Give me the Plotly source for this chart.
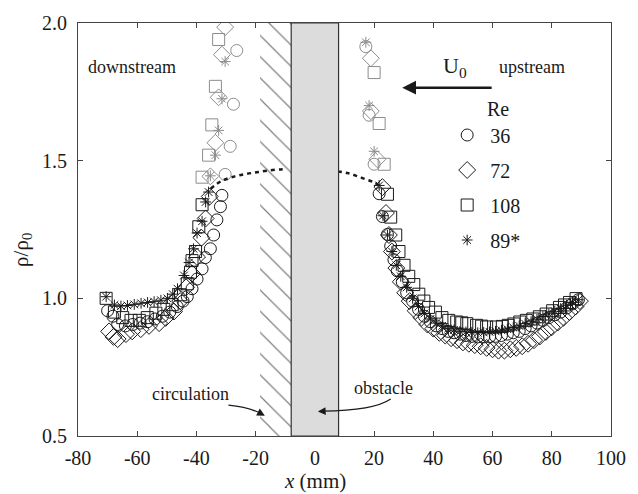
import plotly.graph_objects as go

# ---- measured density profiles rho/rho0 along x (mm) ----
# Re = 36 (circles)
re36_x = [-70.0, -68.2, -66.6, -64.0, -61.5, -59.0, -56.5, -54.0, -51.5, -49.0, -46.5,
          -44.5, -43.1, -41.5, -39.8, -38.1, -37.0, -35.3, -34.2, -33.1, -31.9, -31.4,
          21.7, 22.8, 24.5, 25.6, 26.7, 27.8, 29.5, 31.0, 33.0, 35.0, 37.0, 39.0, 41.0,
          43.0, 45.0, 47.0, 49.0, 51.0, 53.0, 55.0, 57.0, 59.0, 61.0, 63.0, 65.0, 67.0,
          69.0, 71.0, 73.0, 75.0, 77.0, 79.0, 81.0, 83.0, 85.0, 87.0, 89.0]
re36_y = [0.955, 0.935, 0.905, 0.900, 0.905, 0.910, 0.915, 0.925, 0.935, 0.950, 0.970,
          0.990, 1.006, 1.035, 1.070, 1.107, 1.148, 1.180, 1.230, 1.285, 1.333, 1.374,
          1.380, 1.297, 1.232, 1.190, 1.140, 1.100, 1.060, 1.020, 0.990, 0.960, 0.935,
          0.915, 0.900, 0.890, 0.880, 0.875, 0.870, 0.865, 0.862, 0.860, 0.860, 0.860,
          0.862, 0.865, 0.870, 0.875, 0.880, 0.890, 0.900, 0.910, 0.920, 0.930, 0.940,
          0.950, 0.965, 0.980, 0.995]
re36_near_x = [-30.3, -28.6, -27.5, -26.4, 17.2, 18.3, 20.0]
re36_near_y = [1.450, 1.552, 1.705, 1.900, 1.914, 1.665, 1.487]

# Re = 72 (diamonds)
re72_x = [-69.5, -68.0, -66.6, -63.8, -61.7, -58.8, -56.0, -52.6, -50.4, -47.6, -45.5,
          -43.5, -41.5, -39.8, -38.3, -36.9, -35.5,
          22.8, 24.0, 25.0, 26.0, 27.5, 29.0, 30.5, 32.0, 34.0, 36.0, 38.0, 40.0, 42.0,
          44.0, 46.0, 48.0, 50.0, 52.0, 54.0, 56.0, 58.0, 60.0, 62.0, 64.0, 66.0, 68.0,
          70.0, 72.0, 74.0, 76.0, 78.0, 80.0, 82.0, 84.0, 86.0, 88.0, 89.5]
re72_y = [0.880, 0.860, 0.852, 0.870, 0.880, 0.888, 0.900, 0.910, 0.929, 0.952, 0.990,
          1.040, 1.090, 1.150, 1.220, 1.290, 1.370,
          1.404, 1.310, 1.230, 1.170, 1.110, 1.060, 1.020, 0.990, 0.955, 0.930, 0.905,
          0.890, 0.875, 0.865, 0.855, 0.848, 0.840, 0.835, 0.830, 0.826, 0.820, 0.815,
          0.810, 0.810, 0.815, 0.820, 0.826, 0.835, 0.848, 0.862, 0.878, 0.895, 0.912,
          0.930, 0.950, 0.970, 0.990]
re72_near_x = [-35.3, -33.6, -32.5, -31.4, -30.3, 18.9, 18.9, 21.1]
re72_near_y = [1.443, 1.565, 1.730, 1.885, 1.985, 1.872, 1.680, 1.505]

# Re = 108 (squares)
re108_x = [-70.5, -67.7, -64.9, -62.1, -59.3, -56.6, -53.7, -51.0, -48.2, -45.4, -43.1,
           -42.0, -41.5, -40.3, -39.2, -38.1,
           24.5, 25.6, 27.3, 28.4, 30.1, 31.7, 33.4, 35.1, 36.8, 38.4, 40.7, 42.9, 45.2,
           47.9, 49.6, 51.3, 54.6, 56.3, 58.0, 61.3, 63.3, 65.3, 67.2, 69.2, 71.4, 73.6,
           75.8, 78.1, 80.3, 82.6, 84.3, 86.0, 88.2]
re108_y = [1.000, 0.950, 0.930, 0.920, 0.920, 0.930, 0.946, 0.960, 0.977, 1.013, 1.053,
           1.095, 1.137, 1.170, 1.260, 1.340,
           1.378, 1.295, 1.230, 1.170, 1.120, 1.080, 1.050, 1.015, 0.990, 0.967, 0.950,
           0.930, 0.920, 0.914, 0.911, 0.908, 0.902, 0.899, 0.896, 0.896, 0.898, 0.902,
           0.907, 0.914, 0.920, 0.925, 0.933, 0.943, 0.955, 0.967, 0.976, 0.985, 0.999]
re108_near_x = [-38.1, -35.9, -34.8, -33.6, -32.5, 20.0, 21.7, 23.4]
re108_near_y = [1.440, 1.520, 1.630, 1.770, 1.940, 1.820, 1.635, 1.487]

# Re = 89* (asterisks)
re89_x = [-70.5, -67.7, -65.5, -63.3, -61.0, -58.7, -56.5, -54.3, -52.0, -49.8, -48.0,
          -46.4, -44.2, -42.5, -41.0, -39.8, -38.1, -36.9, -35.9,
          21.7, 23.0, 24.5, 26.0, 27.5, 29.0, 31.0, 33.0, 35.0, 37.0, 39.0, 41.0, 43.0,
          45.0, 47.0, 49.0, 51.0, 53.0, 55.0, 57.0, 59.0, 61.0, 63.0, 65.0, 67.0, 69.0,
          71.0, 73.0, 75.0, 77.0, 79.0, 81.0, 83.0, 85.0, 87.0, 89.0]
re89_y = [1.006, 0.976, 0.972, 0.974, 0.978, 0.982, 0.985, 0.988, 0.993, 1.000, 1.015,
          1.035, 1.083, 1.130, 1.180, 1.237, 1.280, 1.350, 1.386,
          1.410, 1.300, 1.230, 1.170, 1.120, 1.080, 1.040, 1.000, 0.970, 0.945, 0.925,
          0.910, 0.900, 0.890, 0.885, 0.880, 0.878, 0.876, 0.875, 0.876, 0.878, 0.880,
          0.884, 0.888, 0.894, 0.900, 0.908, 0.915, 0.924, 0.934, 0.944, 0.953, 0.963,
          0.975, 0.985, 0.995]
re89_near_x = [-35.3, -33.6, -32.5, -31.4, -30.3, 17.2, 18.3, 20.0]
re89_near_y = [1.445, 1.520, 1.610, 1.725, 1.860, 1.930, 1.700, 1.534]

# dotted guide curve across the obstacle
guide_left_x = [-35.2, -31.4, -27.0, -23.0, -19.0, -15.0, -11.0, -9.5]
guide_left_y = [1.398, 1.427, 1.443, 1.452, 1.459, 1.465, 1.469, 1.471]
guide_right_x = [7.7, 11.0, 14.0, 17.0, 20.0, 21.7]
guide_right_y = [1.461, 1.455, 1.445, 1.433, 1.421, 1.410]

# geometry
obstacle = (-8.0, 8.0)
circulation = (-18.5, -8.0)
y_range = (0.5, 2.0)

SERIF = "Liberation Serif"
BLACK = "#1a1a1a"
GREY = "#8c8c8c"

fig = go.Figure()

# recirculation zone (hatched)
fig.add_trace(go.Scatter(
    x=[circulation[0], circulation[1], circulation[1], circulation[0], circulation[0]],
    y=[y_range[0], y_range[0], y_range[1], y_range[1], y_range[0]],
    mode="lines", line=dict(width=0), fill="toself", fillcolor="rgba(0,0,0,0)",
    fillpattern=dict(shape="\\", fgcolor="#000000", bgcolor="white", size=15, solidity=0.08),
    hoverinfo="skip", showlegend=False))

series = [
    ("36", re36_x, re36_y, re36_near_x, re36_near_y, "circle-open", 12),
    ("72", re72_x, re72_y, re72_near_x, re72_near_y, "diamond-open", 13),
    ("108", re108_x, re108_y, re108_near_x, re108_near_y, "square-open", 12),
    ("89*", re89_x, re89_y, re89_near_x, re89_near_y, "asterisk-open", 9),
]

for name, xs, ys, nx, ny, sym, sz in series:
    fig.add_trace(go.Scatter(
        x=nx, y=ny, mode="markers", showlegend=False, hoverinfo="skip",
        marker=dict(symbol=sym, size=sz, color=GREY, line=dict(color=GREY, width=1))))
for name, xs, ys, nx, ny, sym, sz in series:
    fig.add_trace(go.Scatter(
        x=xs, y=ys, mode="markers", name=name, legendgroup=name,
        marker=dict(symbol=sym, size=sz, color=BLACK, line=dict(color=BLACK, width=1))))

for gx, gy in [(guide_left_x, guide_left_y), (guide_right_x, guide_right_y)]:
    fig.add_trace(go.Scatter(
        x=gx, y=gy, mode="lines", showlegend=False, hoverinfo="skip",
        line=dict(color=BLACK, width=2.5, dash="4px,4px", shape="spline")))

# obstacle
fig.add_shape(type="rect", x0=obstacle[0], x1=obstacle[1], y0=y_range[0], y1=y_range[1],
              fillcolor="#dcdcdc", line=dict(color="#333333", width=1.2), layer="above")

# curved pointers for the labels
fig.add_shape(type="path", path="M -29.2,0.612 Q -22,0.605 -17.6,0.578",
              line=dict(color=BLACK, width=1.2))
fig.add_shape(type="path", path="M 25.6,0.634 Q 20,0.592 2.5,0.590",
              line=dict(color=BLACK, width=1.2), layer="above")

ann = [
    dict(x=-61.9, y=1.839, text="downstream"),
    dict(x=73.3, y=1.839, text="upstream"),
    dict(x=61.85, y=1.686, text="Re", font=dict(family=SERIF, size=20, color=BLACK)),
    dict(x=47.3, y=1.842, text="U<sub>0</sub>", font=dict(family=SERIF, size=22, color=BLACK)),
    dict(x=-42.0, y=0.654, text="circulation"),
    dict(x=23.1, y=0.675, text="obstacle"),
]
for a in ann:
    a.setdefault("font", dict(family=SERIF, size=18, color=BLACK))
    fig.add_annotation(xref="x", yref="y", showarrow=False, **a)

# flow direction arrow
fig.add_annotation(x=29.5, y=1.765, ax=60.2, ay=1.765, xref="x", yref="y",
                   axref="x", ayref="y", text="", showarrow=True,
                   arrowhead=2, arrowsize=1.1, arrowwidth=2.5, arrowcolor=BLACK)
# arrowheads on the curved pointers
fig.add_annotation(x=-16.9, y=0.574, ax=-18.3, ay=0.582, xref="x", yref="y",
                   axref="x", ayref="y", text="", showarrow=True,
                   arrowhead=2, arrowsize=1.3, arrowwidth=1.2, arrowcolor=BLACK)
fig.add_annotation(x=1.0, y=0.589, ax=3.0, ay=0.590, xref="x", yref="y",
                   axref="x", ayref="y", text="", showarrow=True,
                   arrowhead=2, arrowsize=1.3, arrowwidth=1.2, arrowcolor=BLACK)

# axis titles
fig.add_annotation(xref="paper", yref="paper", x=0.4448, y=-0.1096, showarrow=False,
                   xanchor="center", yanchor="middle",
                   text="<i>x</i> (mm)", font=dict(family=SERIF, size=21, color=BLACK))
fig.add_annotation(xref="paper", yref="paper", x=-0.1055, y=0.45, showarrow=False,
                   xanchor="center", yanchor="middle",
                   textangle=-90, text="ρ/ρ<sub>0</sub>",
                   font=dict(family=SERIF, size=21, color=BLACK))

axis_common = dict(showgrid=False, zeroline=False, showline=True, linecolor="#444444",
                   linewidth=1.2, mirror="ticks", ticks="inside", ticklen=5,
                   tickcolor="#444444", tickwidth=1.2,
                   tickfont=dict(family=SERIF, size=20, color=BLACK))

fig.update_xaxes(range=[-80, 100], tickvals=[-80, -60, -40, -20, 0, 20, 40, 60, 80, 100],
                 ticktext=["-80", "-60", "-40", "-20", "0", "20", "40", "60", "80", "100"],
                 ticklabelstandoff=4, **axis_common)
fig.update_yaxes(range=[0.5, 2.0], tickvals=[0.5, 1.0, 1.5, 2.0],
                 ticktext=["0.5", "1.0", "1.5", "2.0"], ticklabelstandoff=6, **axis_common)

fig.update_layout(
    width=638, height=494,
    margin=dict(l=78, r=24, t=16, b=58),
    paper_bgcolor="white", plot_bgcolor="white",
    legend=dict(x=0.687, y=0.776, xanchor="left", yanchor="top",
                bgcolor="rgba(0,0,0,0)", tracegroupgap=6, itemwidth=36,
                font=dict(family=SERIF, size=20, color=BLACK)),
)

fig.write_html("out.html")
